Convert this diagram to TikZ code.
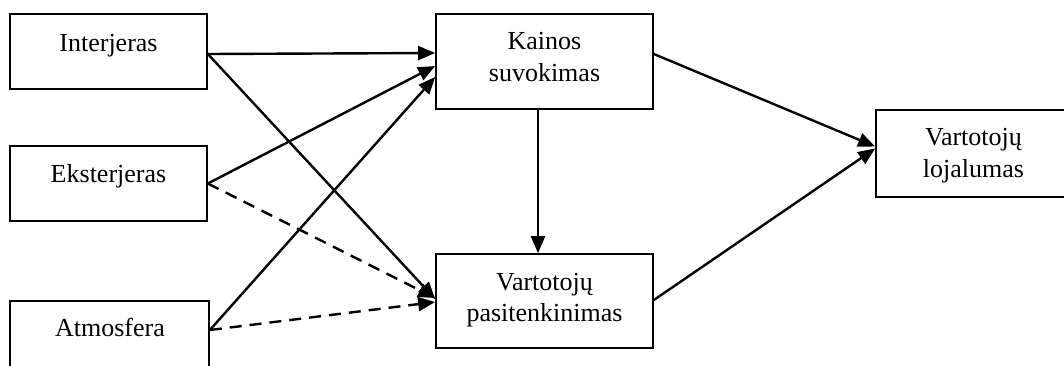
\documentclass[tikz,border=0pt]{standalone}
\usepackage{fontspec}
\setmainfont{Liberation Serif}
\usetikzlibrary{arrows.meta}
\begin{document}
\begin{tikzpicture}[x=1pt,y=-1pt,
  box/.style={draw=black,line width=1.7pt,rectangle,inner sep=0pt},
  lbl/.style={anchor=base,align=center,inner sep=0pt,font=\fontsize{26}{31.5}\selectfont},
  conn/.style={line width=2.4pt,-{Triangle[length=17pt,width=14pt]}},
  dconn/.style={conn,dash pattern=on 12pt off 8pt}]
\useasboundingbox (0,0) rectangle (1064,365);
\clip (0,0) rectangle (1064,365);
% boxes
\node[box,minimum width=197pt,minimum height=75pt] (int) at (108.5,51.5) {};
\node[box,minimum width=197pt,minimum height=75pt] (eks) at (108.5,183.5) {};
\node[box,minimum width=199pt,minimum height=75pt] (atm) at (109.5,338.5) {};
\node[box,minimum width=217pt,minimum height=95pt] (kai) at (544.5,61.5) {};
\node[box,minimum width=217pt,minimum height=94pt] (pas) at (544.5,301) {};
\node[box,minimum width=195pt,minimum height=87pt] (loj) at (973.5,153.5) {};
% texts
\node[lbl] (tint) at (108.5,51) {Interjeras};
\node[lbl] (teks) at (108.5,182.7) {Eksterjeras};
\node[lbl] (tatm) at (110,336.7) {Atmosfera};
\node[lbl] (tkai) at (544.5,81) {Kainos\\suvokimas};
\node[lbl] (tpas) at (544.5,321.5) {Vartotojų\\pasitenkinimas};
\node[lbl] (tloj) at (973.5,177) {Vartotojų\\lojalumas};
% connectors
\draw[conn] ([yshift=-2.5pt]int.east) -- ([yshift=8.5pt]kai.west);
\draw[conn] ([yshift=-2.5pt]int.east) -- ([yshift=2pt]pas.west);
\draw[conn] (eks.east) -- ([yshift=-4.5pt]kai.west);
\draw[dconn] (eks.east) -- ([yshift=3pt]pas.west);
\draw[conn] ([yshift=8.5pt]atm.east) -- ([yshift=-15.5pt]kai.west);
\draw[dconn] ([yshift=8.5pt]atm.east) -- ([yshift=-1pt]pas.west);
\draw[conn] ([xshift=-6.5pt]kai.south) -- ([xshift=-6.5pt]pas.north);
\draw[conn] ([yshift=7.5pt]kai.east) -- ([yshift=7pt]loj.west);
\draw[conn] ([yshift=1pt]pas.east) -- ([yshift=5pt]loj.west);
\end{tikzpicture}
\end{document}
